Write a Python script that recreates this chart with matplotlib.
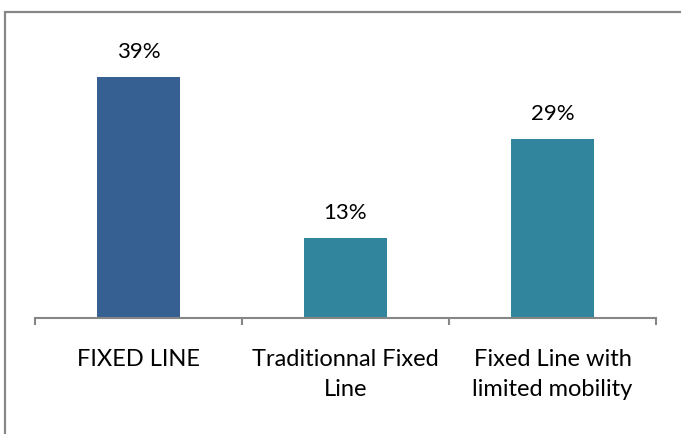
import matplotlib
matplotlib.use("Agg")
import matplotlib.pyplot as plt
from matplotlib.patches import Rectangle

categories = ["FIXED LINE", "Traditionnal Fixed\nLine", "Fixed Line with\nlimited mobility"]
values = [39, 13, 29]
labels = ["39%", "13%", "29%"]
colors = ["#366092", "#31859C", "#31859C"]

W, H = 681, 434
fig = plt.figure(figsize=(W / 100, H / 100), dpi=100)
fig.patch.set_facecolor("white")

ax = fig.add_axes([35 / W, (H - 318) / H, (656 - 35) / W, 277.6 / H])
x = list(range(len(categories)))
ax.bar(x, values, width=0.4, color=colors, zorder=2)
ax.set_xlim(-0.5, len(categories) - 0.5)
ax.set_ylim(0, 45)

for xi, v, lab in zip(x, values, labels):
    ax.annotate(lab, (xi, v), xytext=(0, 11), textcoords="offset points",
                ha="center", va="bottom", fontsize=16, family="Lato", color="#000000")

for s in ["top", "right", "left"]:
    ax.spines[s].set_visible(False)
ax.spines["bottom"].set_color("#868686")
ax.spines["bottom"].set_linewidth(1.5)
ax.set_yticks([])
ax.set_xticks([-0.5, 0.5, 1.5, 2.5])
ax.set_xticklabels([])
ax.tick_params(axis="x", length=5, width=1.5, color="#868686", direction="out")

for xi, cat in zip(x, categories):
    ax.text(xi, -5.1, cat, ha="center", va="top", fontsize=17, family="Lato",
            linespacing=1.5, color="#000000")

fig.patches.append(Rectangle((5 / W, -0.1), 1.2, (H - 12) / H + 0.1, transform=fig.transFigure,
                             fill=False, edgecolor="#878787", linewidth=1.6))

fig.savefig("out.png", dpi=100)
